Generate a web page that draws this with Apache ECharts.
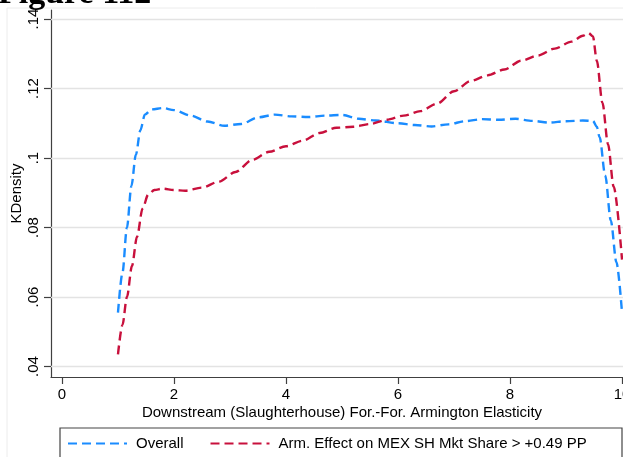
<!DOCTYPE html>
<html>
<head>
<meta charset="utf-8">
<script src="https://cdn.jsdelivr.net/npm/echarts@6/dist/echarts.min.js"></script>
<style>
html,body{margin:0;padding:0;background:#fff;}
#chart{width:623px;height:457px;}
</style>
</head>
<body>
<div id="chart"></div>
<script>
// ---- data ----
const overallX = [1.0, 1.08, 1.16, 1.24, 1.32, 1.4, 1.48, 1.6, 1.8, 2.0, 2.3, 2.6, 2.9, 3.2, 3.5, 3.8, 4.1, 4.4, 4.7, 5.0, 5.3, 5.6, 6.0, 6.3, 6.6, 6.9, 7.2, 7.5, 7.8, 8.1, 8.4, 8.7, 9.0, 9.3, 9.48, 9.55, 9.6, 9.7, 9.8, 9.9, 10.0];
const overallY = [0.0555, 0.067, 0.080, 0.092, 0.101, 0.108, 0.1125, 0.1140, 0.1144, 0.1138, 0.1122, 0.1105, 0.1093, 0.1098, 0.1117, 0.1125, 0.1120, 0.1118, 0.1122, 0.1124, 0.1113, 0.1108, 0.1100, 0.1095, 0.1091, 0.1097, 0.1106, 0.1112, 0.1110, 0.1113, 0.1107, 0.1102, 0.1106, 0.1108, 0.1107, 0.109, 0.106, 0.095, 0.082, 0.070, 0.0555];
const armX = [1.0, 1.08, 1.16, 1.25, 1.34, 1.44, 1.54, 1.65, 1.8, 2.0, 2.2, 2.5, 2.8, 3.1, 3.4, 3.7, 4.0, 4.3, 4.6, 4.9, 5.2, 5.5, 5.8, 6.1, 6.4, 6.7, 7.0, 7.3, 7.6, 7.9, 8.2, 8.5, 8.8, 9.1, 9.3, 9.4, 9.48, 9.55, 9.65, 9.75, 9.85, 10.0];
const armY = [0.0435, 0.052, 0.060, 0.069, 0.0774, 0.0855, 0.0895, 0.0908, 0.0912, 0.0908, 0.0906, 0.0915, 0.0932, 0.096, 0.0995, 0.1018, 0.1034, 0.1050, 0.1072, 0.1087, 0.1090, 0.1098, 0.1110, 0.1122, 0.1135, 0.1157, 0.1192, 0.1222, 0.1238, 0.1255, 0.1280, 0.1295, 0.1315, 0.1335, 0.1352, 0.1360, 0.1350, 0.128, 0.1159, 0.104, 0.0918, 0.0708];
const xTicks = [0, 2, 4, 6, 8, 10];
const yTicks = [0.04, 0.06, 0.08, 0.10, 0.12, 0.14];
const yTickLabels = ['.04', '.06', '.08', '.1', '.12', '.14'];
const seriesNames = ['Overall', 'Arm. Effect on MEX SH Mkt Share > +0.49 PP'];
const titleText = 'Figure 112';
const xTitle = 'Downstream (Slaughterhouse) For.-For. Armington Elasticity';
const yTitle = 'KDensity';

const FONT = '"Liberation Sans", Arial, sans-serif';
const pairs = (xs, ys) => xs.map((x, i) => [x, ys[i]]);

const chart = echarts.init(document.getElementById('chart'), null, {renderer: 'canvas'});
chart.setOption({
  animation: false,
  backgroundColor: '#fff',
  textStyle: {fontFamily: FONT, color: '#000'},
  grid: {left: 51, top: 10, width: 582, height: 367, containLabel: false, outerBoundsMode: 'none'},
  xAxis: {
    type: 'value', min: -0.196, max: 10.196,
    axisLine: {show: true, onZero: false, lineStyle: {color: '#404040', width: 1.2}},
    axisTick: {show: true, length: 7, customValues: xTicks, lineStyle: {color: '#404040', width: 1.2}},
    axisLabel: {show: true, customValues: xTicks, margin: 10, fontSize: 15, color: '#000', fontFamily: FONT},
    splitLine: {show: false},
    name: xTitle, nameLocation: 'middle', nameGap: 28, nameMoveOverlap: false,
    nameTextStyle: {fontSize: 15, color: '#000', fontFamily: FONT}
  },
  yAxis: {
    type: 'value', min: 0.037, max: 0.1426,
    axisLine: {show: true, onZero: false, lineStyle: {color: '#404040', width: 1.2}},
    axisTick: {show: true, length: 7, customValues: yTicks, lineStyle: {color: '#404040', width: 1.2}},
    axisLabel: {show: true, customValues: yTicks, rotate: 90, margin: 10, fontSize: 15, color: '#000', fontFamily: FONT,
      formatter: v => { const i = yTicks.findIndex(t => Math.abs(t - v) < 1e-6); return i >= 0 ? yTickLabels[i] : ''; }},
    splitLine: {show: false},
    name: yTitle, nameLocation: 'middle', nameGap: 27, nameMoveOverlap: false,
    nameTextStyle: {fontSize: 15, color: '#000', fontFamily: FONT}
  },
  legend: {
    left: 67, top: 436, padding: 0, itemWidth: 59, itemHeight: 14, itemGap: 26,
    textStyle: {fontSize: 15, color: '#000', fontFamily: FONT, padding: [0, 0, 0, 4]},
    itemStyle: {color: 'rgba(0,0,0,0)', borderColor: 'rgba(0,0,0,0)', borderWidth: 0, opacity: 0},
    data: seriesNames
  },
  graphic: [
    {type: 'rect', shape: {x: 7, y: 8, width: 700, height: 520}, style: {fill: 'none', stroke: '#ececec', lineWidth: 1}, silent: true, z: -10},
    {type: 'rect', shape: {x: 60, y: 428, width: 562, height: 40}, style: {fill: 'none', stroke: '#444', lineWidth: 1.2}, silent: true},
    {type: 'text', x: -2, y: 11, style: {text: titleText, font: 'bold 34px "Liberation Serif", "Times New Roman", serif', fill: '#000', verticalAlign: 'bottom'}, silent: true}
  ],
  series: [
    {
      name: seriesNames[0], type: 'line', data: pairs(overallX, overallY), symbol: 'none',
      smooth: 0.3, smoothMonotone: 'x', clip: true,
      lineStyle: {color: '#1a8cff', width: 2.4, type: [9, 5]}, itemStyle: {color: '#1a8cff'},
      markLine: {
        silent: true, symbol: 'none', label: {show: false},
        lineStyle: {color: '#e3e3e3', width: 1.3, type: 'solid'},
        data: yTicks.map(v => ({yAxis: v})), z: 1
      },
      z: 3
    },
    {
      name: seriesNames[1], type: 'line', data: pairs(armX, armY), symbol: 'none',
      smooth: 0.3, smoothMonotone: 'x', clip: true,
      lineStyle: {color: '#c8103c', width: 2.4, type: [9, 5]}, itemStyle: {color: '#c8103c'},
      z: 3
    }
  ]
});
</script>
</body>
</html>
